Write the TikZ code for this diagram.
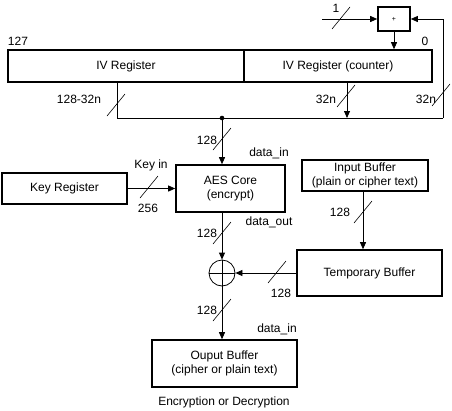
\documentclass[tikz,border=0pt]{standalone}
\usepackage{fontspec}
\setmainfont{Liberation Sans}
\usetikzlibrary{arrows.meta,calc}

\newcommand{\busmark}[1]{\draw[line width=0.6pt] (#1) ++(-9,11) -- ++(18,-22);}

\begin{document}
\begin{tikzpicture}[x=1pt,y=-1pt,
    font=\fontsize{12}{14}\selectfont,
    box/.style={draw,line width=1.6pt,align=center,inner sep=0pt},
    wire/.style={line width=0.8pt},
    arr/.style={wire,-{Stealth[length=7pt,width=6pt,inset=0pt]}}]
    \useasboundingbox (0,0) rectangle (452,410);

    % registos do IV
    \node[box,minimum width=236,minimum height=32] (ivreg) at (126,66) {IV Register};
    \node[box,minimum width=188,minimum height=32] (ivcnt) at (338,66) {IV Register (counter)};
    \node[box,minimum width=32,minimum height=24,font=\fontsize{7}{8}\selectfont] (plus) at (394,19) {+};
    \node (lmsb) at (18,41) {127};
    \node (llsb) at (425,41) {0};

    % blocos
    \node[box,minimum width=125,minimum height=31] (keyreg) at (64.5,188.5) {Key Register};
    \node[box,minimum width=109,minimum height=47] (aes) at (230.5,188.5) {AES Core\\(encrypt)};
    \node[box,minimum width=126,minimum height=31] (inbuf) at (365,175.5) {Input Buffer\\(plain or cipher text)};
    \node[box,minimum width=145,minimum height=46] (tmpbuf) at (369.5,273) {Temporary Buffer};
    \node[draw,circle,line width=0.8pt,minimum size=26,inner sep=0pt] (xor) at (222,273) {};
    \draw[wire] (xor.north) -- (xor.south) (xor.west) -- (xor.east);
    \node[box,minimum width=145,minimum height=47] (outbuf) at (224.5,363.5) {Ouput Buffer\\(cipher or plain text)};
    \node (lmode) at (224,402) {Encryption or Decryption};

    % barramento
    \coordinate (bl) at (117,118);
    \coordinate (join) at (222,118);
    \coordinate (cnt) at (347,118);
    \coordinate (br) at (443,118);
    \coordinate (one) at (322,19);
    \coordinate (inb) at (363,0);
    \draw[wire] (ivreg.south -| bl) -- (bl) -- (br);
    \draw[arr] (br) -- (br |- plus.east) -- (plus.east);
    \draw[arr] (ivcnt.south -| cnt) -- (cnt);
    \draw[arr] (plus.south) -- (plus.south |- ivcnt.north);
    \draw[arr] (one) -- (plus.west);
    \fill (join) circle (2.3pt);

    % ligacoes
    \draw[arr] (join) -- (join |- aes.north);
    \draw[arr] (keyreg.east) -- (keyreg.east -| aes.west);
    \draw[arr] (aes.south -| join) -- (xor.north);
    \draw[arr] (inbuf.south -| inb) -- (tmpbuf.north -| inb);
    \draw[arr] (tmpbuf.west |- xor) -- (xor.east);
    \draw[arr] (xor.south) -- (xor.south |- outbuf.north);

    % larguras
    \busmark{341,18}
    \busmark{116,105}
    \busmark{346,96}
    \busmark{441,95}
    \busmark{222,139}
    \busmark{149,187}
    \busmark{222,233}
    \busmark{363,212}
    \busmark{277,272}
    \busmark{222,310}
    \node (w1) at (336,8) {1};
    \node (wlo) at (79,99) {128-32n};
    \node (wcnt) at (326,99) {32n};
    \node (wfb) at (426,99) {32n};
    \node (win) at (207,140) {128};
    \node (lin) at (269,153) {data\_in};
    \node (lkey) at (151,165) {Key in};
    \node (wkey) at (148,208) {256};
    \node (wout) at (207,233) {128};
    \node (lout) at (269,222) {data\_out};
    \node (wbuf) at (340,212) {128};
    \node (wtmp) at (281,293) {128};
    \node (wres) at (207,310) {128};
    \node (lres) at (277,329) {data\_in};
\end{tikzpicture}
\end{document}
